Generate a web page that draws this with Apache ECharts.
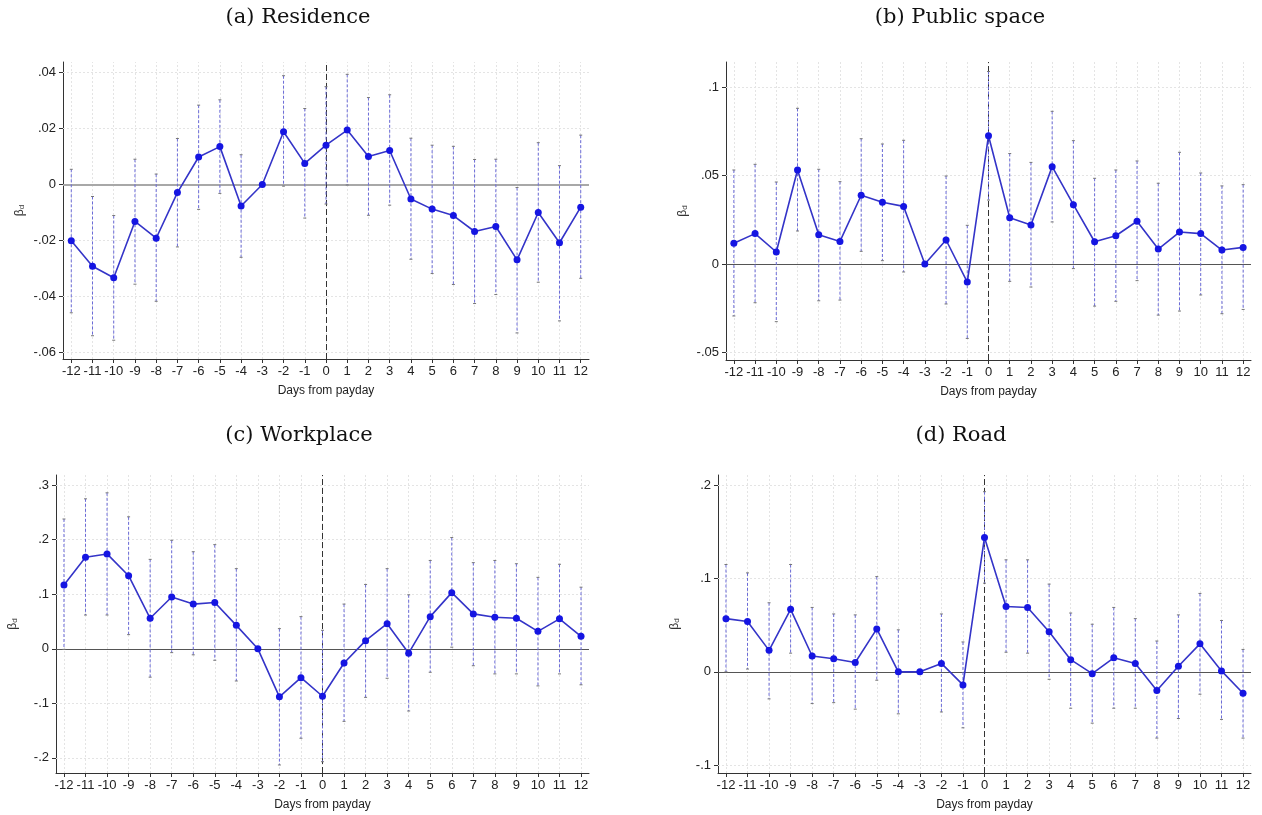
<!DOCTYPE html>
<html>
<head>
<meta charset="utf-8">
<script src="https://cdn.jsdelivr.net/npm/echarts@6/dist/echarts.min.js"></script>
<style>
  html, body { margin: 0; padding: 0; background: #fff; }
  #chart { width: 1262px; height: 815px; }
</style>
</head>
<body>
<div id="chart"></div>
<script>
// Days relative to payday (day -3 is the omitted reference day)
const days = [-12, -11, -10, -9, -8, -7, -6, -5, -4, -3, -2, -1, 0, 1, 2, 3, 4, 5, 6, 7, 8, 9, 10, 11, 12];

// (a) Residence
const residenceCoef = [-0.0201, -0.0292, -0.0333, -0.0132, -0.0192, -0.0029, 0.0098, 0.0135, -0.0077, 0, 0.0188, 0.0075, 0.0140, 0.0194, 0.0100, 0.0121, -0.0052, -0.0088, -0.0111, -0.0168, -0.0150, -0.0269, -0.0100, -0.0208, -0.0081];
const residenceLo   = [-0.0458, -0.0540, -0.0556, -0.0356, -0.0417, -0.0223, -0.0089, -0.0032, -0.0260, null, -0.0006, -0.0120, -0.0070, -0.0002, -0.0110, -0.0074, -0.0267, -0.0318, -0.0357, -0.0425, -0.0393, -0.0530, -0.0349, -0.0487, -0.0335];
const residenceHi   = [0.0054, -0.0043, -0.0111, 0.0090, 0.0037, 0.0164, 0.0283, 0.0302, 0.0106, null, 0.0388, 0.0271, 0.0349, 0.0393, 0.0310, 0.0320, 0.0165, 0.0140, 0.0136, 0.0089, 0.0090, -0.0011, 0.0149, 0.0067, 0.0176];
const residenceTicks = [-0.06, -0.04, -0.02, 0, 0.02, 0.04];

// (b) Public space
const publicCoef = [0.0117, 0.0172, 0.0068, 0.0532, 0.0166, 0.0128, 0.0389, 0.0349, 0.0326, 0, 0.0136, -0.0102, 0.0726, 0.0262, 0.0221, 0.0551, 0.0336, 0.0126, 0.0160, 0.0242, 0.0085, 0.0181, 0.0172, 0.0079, 0.0094];
const publicLo   = [-0.0294, -0.0219, -0.0326, 0.0187, -0.0208, -0.0204, 0.0072, 0.0019, -0.0045, null, -0.0226, -0.0421, 0.0362, -0.0098, -0.0130, 0.0238, -0.0026, -0.0238, -0.0211, -0.0094, -0.0289, -0.0266, -0.0175, -0.0281, -0.0257];
const publicHi   = [0.0532, 0.0564, 0.0464, 0.0881, 0.0536, 0.0466, 0.0709, 0.0679, 0.0700, null, 0.0498, 0.0219, 0.1089, 0.0625, 0.0575, 0.0864, 0.0698, 0.0485, 0.0532, 0.0583, 0.0457, 0.0632, 0.0515, 0.0442, 0.0449];
const publicTicks = [-0.05, 0, 0.05, 0.1];

// (c) Workplace
const workCoef = [0.117, 0.168, 0.174, 0.134, 0.056, 0.095, 0.082, 0.085, 0.043, 0, -0.088, -0.053, -0.087, -0.026, 0.015, 0.046, -0.008, 0.059, 0.103, 0.064, 0.058, 0.056, 0.032, 0.055, 0.023];
const workLo   = [-0.001, 0.062, 0.062, 0.026, -0.052, -0.007, -0.011, -0.021, -0.059, null, -0.213, -0.164, -0.207, -0.133, -0.089, -0.054, -0.114, -0.043, 0.003, -0.031, -0.046, -0.046, -0.068, -0.046, -0.066];
const workHi   = [0.238, 0.275, 0.286, 0.242, 0.164, 0.199, 0.178, 0.191, 0.147, null, 0.037, 0.059, 0.034, 0.082, 0.118, 0.147, 0.099, 0.162, 0.204, 0.158, 0.162, 0.156, 0.131, 0.155, 0.113];
const workTicks = [-0.2, -0.1, 0, 0.1, 0.2, 0.3];

// (d) Road
const roadCoef = [0.057, 0.054, 0.023, 0.067, 0.017, 0.014, 0.010, 0.046, 0.000, 0, 0.009, -0.014, 0.144, 0.070, 0.069, 0.043, 0.013, -0.002, 0.015, 0.009, -0.020, 0.006, 0.030, 0.001, -0.023];
const roadLo   = [0.000, 0.003, -0.029, 0.020, -0.034, -0.033, -0.040, -0.009, -0.045, null, -0.043, -0.060, 0.095, 0.021, 0.020, -0.008, -0.039, -0.055, -0.039, -0.039, -0.071, -0.050, -0.024, -0.051, -0.071];
const roadHi   = [0.115, 0.106, 0.074, 0.115, 0.069, 0.062, 0.061, 0.102, 0.045, null, 0.062, 0.032, 0.193, 0.120, 0.120, 0.094, 0.063, 0.051, 0.069, 0.057, 0.033, 0.061, 0.084, 0.055, 0.024];
const roadTicks = [-0.1, 0, 0.1, 0.2];

// Layout of the four panels
const panels = [
  { title: '(a) Residence',    coef: residenceCoef, lo: residenceLo, hi: residenceHi, ticks: residenceTicks,
    grid: { left: 63,  top: 62,  width: 526, height: 297 }, ymin: -0.0623, ymax: 0.0437, xr: 12.39,
    titlePos: [298, 18], zeroColor: '#a8a8a8', zeroWidth: 2 },
  { title: '(b) Public space', coef: publicCoef, lo: publicLo, hi: publicHi, ticks: publicTicks,
    grid: { left: 726, top: 62,  width: 525, height: 298 }, ymin: -0.0543, ymax: 0.1143, xr: 12.37,
    titlePos: [960, 18], zeroColor: '#555', zeroWidth: 1 },
  { title: '(c) Workplace',    coef: workCoef, lo: workLo, hi: workHi, ticks: workTicks,
    grid: { left: 56,  top: 475, width: 533, height: 298 }, ymin: -0.2277, ymax: 0.3187, xr: 12.37,
    titlePos: [299, 436], zeroColor: '#555', zeroWidth: 1 },
  { title: '(d) Road',         coef: roadCoef, lo: roadLo, hi: roadHi, ticks: roadTicks,
    grid: { left: 718, top: 475, width: 533, height: 298 }, ymin: -0.1084, ymax: 0.2109, xr: 12.37,
    titlePos: [961, 436], zeroColor: '#555', zeroWidth: 1 }
];

const SANS = '"Liberation Sans", Arial, sans-serif';

function fmtTick(v) {
  if (Math.abs(v) < 1e-12) return '0';
  const s = String(+v.toFixed(3));
  return s.replace(/^(-?)0\./, '$1.');
}

const grids = [], xAxes = [], yAxes = [], series = [], graphics = [];

panels.forEach((p, i) => {
  grids.push(Object.assign({ containLabel: false }, p.grid));

  xAxes.push({
    gridIndex: i, type: 'value', min: -p.xr, max: p.xr,
    axisLine: { show: true, onZero: false, lineStyle: { color: '#333', width: 1 } },
    axisTick: { show: true, customValues: days, length: 4, lineStyle: { color: '#333' } },
    axisLabel: { customValues: days, fontSize: 13, color: '#222', fontFamily: SANS, margin: 6, formatter: v => String(v) },
    splitLine: { show: false },
    name: 'Days from payday', nameLocation: 'middle', nameGap: 26,
    nameTextStyle: { fontSize: 12, fontFamily: SANS, color: '#222' }
  });

  yAxes.push({
    gridIndex: i, type: 'value', min: p.ymin, max: p.ymax,
    axisLine: { show: true, onZero: false, lineStyle: { color: '#333', width: 1 } },
    axisTick: { show: true, customValues: p.ticks, length: 4, lineStyle: { color: '#333' } },
    axisLabel: { customValues: p.ticks, fontSize: 13, color: '#222', fontFamily: SANS, margin: 7, formatter: fmtTick },
    splitLine: { show: false },
    name: '{b|β}{s|d}', nameLocation: 'middle', nameRotate: 90, nameGap: 37,
    nameTextStyle: {
      rich: {
        b: { fontSize: 12, fontFamily: SANS, color: '#333' },
        s: { fontSize: 8, fontFamily: SANS, color: '#333', verticalAlign: 'bottom', padding: [5, 0, 0, 0] }
      }
    }
  });

  // Reference grid, zero line and payday marker
  const gridLineStyle = { color: '#e4e4e4', width: 1, type: [2, 2] };
  const markData = [];
  days.forEach(d => markData.push({ xAxis: d, lineStyle: gridLineStyle }));
  p.ticks.forEach(t => { if (t !== 0) markData.push({ yAxis: t, lineStyle: gridLineStyle }); });
  markData.push({ yAxis: 0, lineStyle: { color: p.zeroColor, width: p.zeroWidth, type: 'solid' } });
  markData.push({ xAxis: 0, lineStyle: { color: '#333', width: 1, type: [6, 3] } });

  const ciData = [];
  days.forEach((d, k) => { if (p.lo[k] !== null) ciData.push([d, p.lo[k], p.hi[k]]); });

  series.push({
    type: 'custom', xAxisIndex: i, yAxisIndex: i, z: 2, silent: true,
    data: ciData,
    encode: { x: 0, y: [1, 2] },
    renderItem: (params, api) => {
      const top = api.coord([api.value(0), api.value(2)]);
      const bot = api.coord([api.value(0), api.value(1)]);
      const cap = { stroke: '#777', lineWidth: 1 };
      return {
        type: 'group',
        children: [
          { type: 'line', shape: { x1: top[0], y1: top[1], x2: bot[0], y2: bot[1] },
            style: { stroke: '#6b6bd8', lineWidth: 1, lineDash: [3, 2] } },
          { type: 'line', shape: { x1: top[0] - 1.5, y1: top[1], x2: top[0] + 1.5, y2: top[1] }, style: cap },
          { type: 'line', shape: { x1: bot[0] - 1.5, y1: bot[1], x2: bot[0] + 1.5, y2: bot[1] }, style: cap }
        ]
      };
    },
    markLine: { silent: true, symbol: 'none', label: { show: false }, z: 1, data: markData, animation: false }
  });

  series.push({
    type: 'line', xAxisIndex: i, yAxisIndex: i, z: 3,
    data: days.map((d, k) => [d, p.coef[k]]),
    lineStyle: { color: '#3434c8', width: 1.6 },
    symbol: 'circle', symbolSize: 7,
    itemStyle: { color: '#1515e2' },
    emphasis: { disabled: true }
  });

  graphics.push({
    type: 'text', x: p.titlePos[0], y: p.titlePos[1],
    style: {
      text: p.title, fontSize: 21, fontFamily: '"DejaVu Serif", serif', fill: '#111',
      align: 'center', verticalAlign: 'middle', textAlign: 'center', textVerticalAlign: 'middle'
    }
  });
});

const chart = echarts.init(document.getElementById('chart'), null, { renderer: 'canvas' });
chart.setOption({
  backgroundColor: '#fff',
  animation: false,
  grid: grids,
  xAxis: xAxes,
  yAxis: yAxes,
  series: series,
  graphic: graphics
});
</script>
</body>
</html>
